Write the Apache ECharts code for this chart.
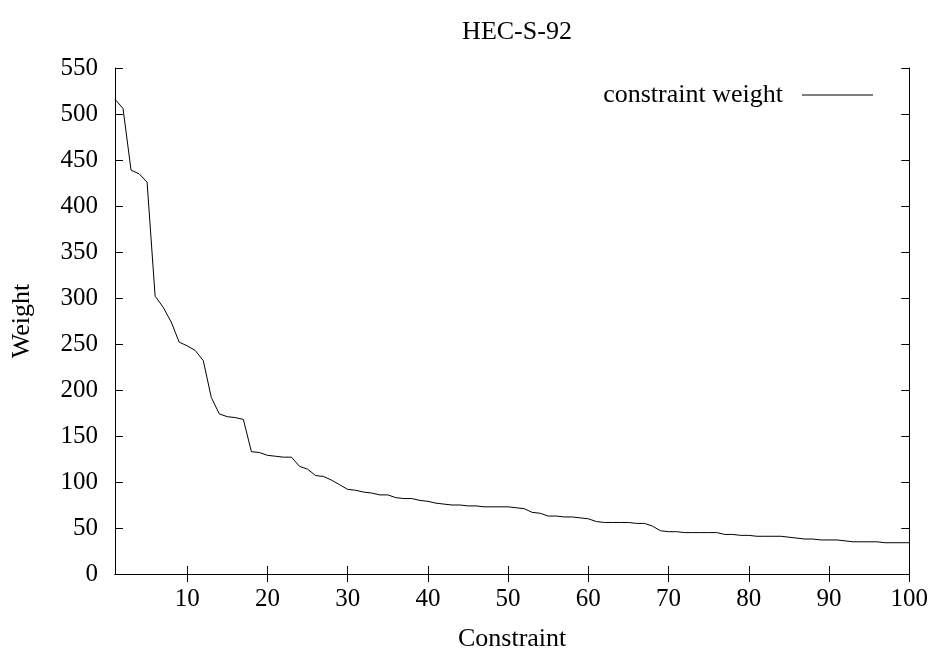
<!DOCTYPE html>
<html>
<head>
<meta charset="utf-8">
<script src="https://cdn.jsdelivr.net/npm/echarts@6/dist/echarts.min.js"></script>
<style>html,body{margin:0;padding:0;background:#fff;}#c{width:931px;height:657px;}</style>
</head>
<body>
<div id="c"></div>
<script>
const titleText = "HEC-S-92";
const seriesName = "constraint weight";
const xName = "Constraint";
const yName = "Weight";
const xTicks = [10, 20, 30, 40, 50, 60, 70, 80, 90, 100];
const yTicks = [0, 50, 100, 150, 200, 250, 300, 350, 400, 450, 500, 550];
const weights = [
  516, 506, 439, 435, 426, 302, 290, 274, 252, 248,
  243, 232, 192, 174, 171, 170, 168, 133, 132, 129,
  128, 127, 127, 117, 114, 107, 106, 102, 97, 92,
  91, 89, 88, 86, 86, 83, 82, 82, 80, 79,
  77, 76, 75, 75, 74, 74, 73, 73, 73, 73,
  72, 71, 67, 66, 63, 63, 62, 62, 61, 60,
  57, 56, 56, 56, 56, 55, 55, 52, 47, 46,
  46, 45, 45, 45, 45, 45, 43, 43, 42, 42,
  41, 41, 41, 41, 40, 39, 38, 38, 37, 37,
  37, 36, 35, 35, 35, 35, 34, 34, 34, 34
];
const points = weights.map((v, i) => [i + 1, v]);

const font = 'Liberation Serif';
const axisLine = { show: true, lineStyle: { color: '#000', width: 1 } };
const chart = echarts.init(document.getElementById('c'));
chart.setOption({
  animation: false,
  backgroundColor: '#fff',
  title: {
    text: titleText, left: 512, top: 14, textAlign: 'center',
    textStyle: { fontFamily: font, fontSize: 26, fontWeight: 'normal', color: '#000' }
  },
  legend: {
    right: 53, top: 77, align: 'right', itemWidth: 71, itemHeight: 1, icon: 'rect',
    data: [seriesName],
    itemStyle: { color: '#000' },
    textStyle: { fontFamily: font, fontSize: 26, color: '#000', padding: [0, 14, 0, 0] }
  },
  grid: { left: 115, right: 21, top: 68, bottom: 77, containLabel: false },
  xAxis: [{
    type: 'value', min: 1, max: 100, name: xName, nameLocation: 'middle', nameGap: 52,
    nameTextStyle: { fontFamily: font, fontSize: 26, color: '#000' },
    axisLine: axisLine,
    axisTick: { inside: true, length: 8, customValues: xTicks, lineStyle: { color: '#000' } },
    axisLabel: { customValues: xTicks, margin: 13, fontFamily: font, fontSize: 25, color: '#000' },
    splitLine: { show: false }
  }, {
    type: 'value', min: 1, max: 100, position: 'top',
    axisLine: axisLine,
    axisTick: { inside: true, length: 8, customValues: xTicks, lineStyle: { color: '#000' } },
    axisLabel: { show: false },
    splitLine: { show: false }
  }],
  yAxis: [{
    type: 'value', min: 0, max: 550, interval: 50, name: yName, nameLocation: 'middle', nameGap: 80,
    nameTextStyle: { fontFamily: font, fontSize: 26, color: '#000' },
    axisLine: axisLine,
    axisTick: { inside: true, length: 8, customValues: yTicks, lineStyle: { color: '#000' } },
    axisLabel: { customValues: yTicks, margin: 17, fontFamily: font, fontSize: 25, color: '#000' },
    splitLine: { show: false }
  }, {
    type: 'value', min: 0, max: 550, interval: 50, position: 'right',
    axisLine: axisLine,
    axisTick: { inside: true, length: 8, customValues: yTicks, lineStyle: { color: '#000' } },
    axisLabel: { show: false },
    splitLine: { show: false }
  }],
  series: [{
    name: seriesName, type: 'line', data: points, xAxisIndex: 0, yAxisIndex: 0,
    symbol: 'none', showSymbol: false,
    lineStyle: { color: '#000', width: 1 }, itemStyle: { color: '#000' }
  }]
});
</script>
</body>
</html>
